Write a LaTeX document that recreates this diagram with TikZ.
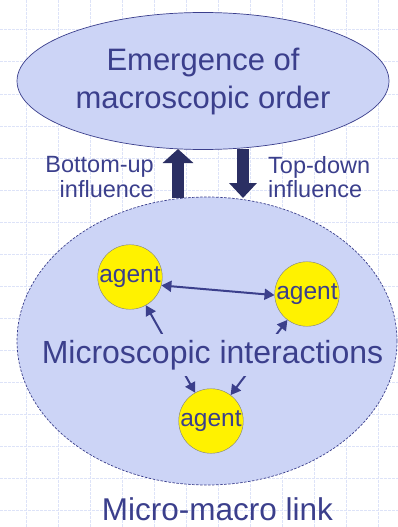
\documentclass[tikz,border=0pt]{standalone}
\usepackage{fontspec}
\setmainfont{Liberation Sans}
\usepackage{tikz}
\usetikzlibrary{calc,positioning,arrows,arrows.meta,shapes}
\definecolor{slideblue}{HTML}{CCD4F6}
\definecolor{inkblue}{HTML}{3B3F8C}
\definecolor{navy}{HTML}{2B2F63}
\definecolor{gridblue}{HTML}{DDE3F8}

\begin{document}
\begin{tikzpicture}[x=1pt,y=-1pt]
\tikzstyle{blob}=[ellipse, draw=inkblue, fill=slideblue, inner sep=0pt,
                  line width=0.7pt, text=inkblue]
\tikzstyle{agent}=[circle, draw=gray, fill=yellow, minimum size=64pt,
                   inner sep=0pt, text=inkblue, font=\fontsize{24.5}{24.5}\selectfont]
\tikzstyle{link}=[draw=inkblue, line width=2pt,
                  {Triangle[length=10pt,width=11pt]}-{Triangle[length=10pt,width=11pt]}]
\tikzstyle{gridline}=[gridblue, line width=1pt, dash pattern=on 3pt off 1pt]
\tikzstyle{label}=[text=inkblue, inner sep=0pt, font=\fontsize{23.5}{24.5}\selectfont]
\useasboundingbox (0,0) rectangle (398,527);
% slide grid
\foreach \gx in {26,58,...,378}{\draw[gridline] (\gx,0) -- (\gx,527);}
\foreach \gy in {30,62,...,510}{\draw[gridline] (0,\gy) -- (398,\gy);}
% the two levels
\node[blob, minimum width=372pt, minimum height=137pt, align=center,
      font=\fontsize{31}{38}\selectfont] (macro) at (203,81)
      {Emergence of\\macroscopic order};
\node[blob, dash pattern=on 2.5pt off 1.5pt, minimum width=380pt,
      minimum height=288pt] (micro) at (207,341) {};
% agents
\node[agent] (a1) at (130,277) {agent};
\node[agent] (a2) at (307,294) {agent};
\node[agent] (a3) at (211,421) {agent};
\draw[link] (a1.-15) -- (a2.182);
\foreach \i/\j in {a1/a3,a2/a3}{\draw[link] (\i) -- (\j);}
\node[fill=slideblue, inner xsep=2pt, inner ysep=0pt, minimum height=42pt,
      text=inkblue, font=\fontsize{32}{32}\selectfont] (inter) at (212.5,355)
      {Microscopic interactions};
% influences between levels
\coordinate (upfoot) at (178,198);
\coordinate (uptip) at (178,149);
\coordinate (downtop) at (243,149);
\coordinate (downtip) at (243,198);
\draw[navy, line width=11.5pt, -{Triangle[length=14pt,width=30pt]}] (upfoot) -- (uptip);
\draw[navy, line width=12pt, -{Triangle[length=15pt,width=27pt]}] (downtop) -- (downtip);
\node[label, anchor=east, align=right] (bottomup) at (154,177) {Bottom-up\\influence};
\node[label, anchor=west, align=left] (topdown) at (268,177) {Top-down\\influence};
\node[text=inkblue, inner sep=0pt, anchor=base, font=\fontsize{31.5}{31.5}\selectfont]
      (link) at (217.5,520) {Micro-macro link};
\end{tikzpicture}
\end{document}
